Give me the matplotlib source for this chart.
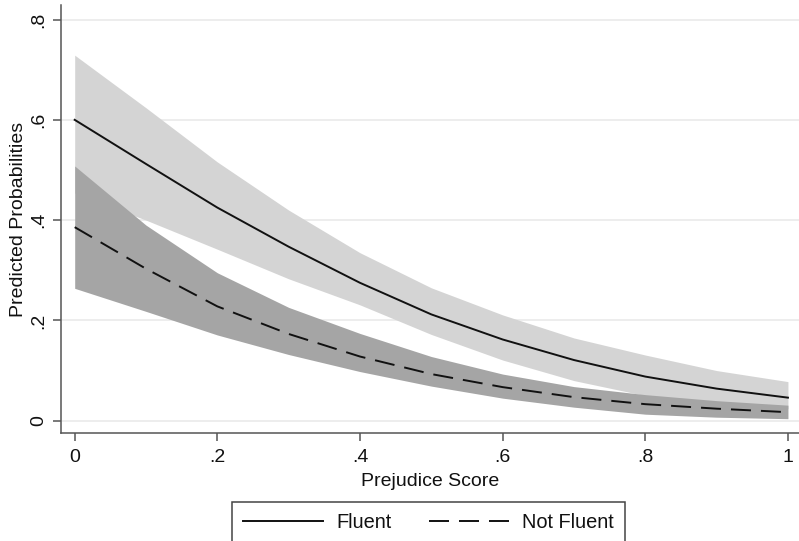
import matplotlib
matplotlib.use("Agg")
import matplotlib.pyplot as plt
from matplotlib.lines import Line2D

# ---- data ----
prejudice = [0.0, 0.1, 0.2, 0.3, 0.4, 0.5, 0.6, 0.7, 0.8, 0.9, 1.0]

fluent_mean  = [0.600, 0.512, 0.425, 0.347, 0.275, 0.212, 0.162, 0.121, 0.088, 0.064, 0.046]
fluent_upper = [0.729, 0.624, 0.516, 0.420, 0.335, 0.265, 0.211, 0.165, 0.131, 0.100, 0.078]
fluent_lower = [0.454, 0.400, 0.342, 0.283, 0.231, 0.172, 0.121, 0.080, 0.050, 0.034, 0.024]

notfl_mean   = [0.386, 0.303, 0.228, 0.173, 0.128, 0.093, 0.067, 0.047, 0.033, 0.024, 0.017]
notfl_upper  = [0.508, 0.390, 0.295, 0.226, 0.174, 0.128, 0.093, 0.068, 0.052, 0.040, 0.031]
notfl_lower  = [0.264, 0.218, 0.171, 0.132, 0.098, 0.069, 0.045, 0.027, 0.013, 0.007, 0.004]

x_ticks = [0, 0.2, 0.4, 0.6, 0.8, 1.0]
x_ticklabels = ["0", ".2", ".4", ".6", ".8", "1"]
y_ticks = [0, 0.2, 0.4, 0.6, 0.8]
y_ticklabels = ["0", ".2", ".4", ".6", ".8"]
series_names = ["Fluent", "Not Fluent"]

# ---- style ----
plt.rcParams["font.family"] = ["Liberation Sans", "DejaVu Sans"]
plt.rcParams["lines.scale_dashes"] = False

W, H = 799, 541
fig = plt.figure(figsize=(W / 100, H / 100), dpi=100)
left_px, right_px, top_px, bottom_px = 61, 799, 5, 433.3
ax = fig.add_axes([left_px / W, 1 - bottom_px / H,
                   (right_px - left_px) / W, (bottom_px - top_px) / H])

light = "#d4d4d4"
dark = "#a5a5a5"
ink = "#111111"
dash = (14.4, 7.2)
lw = 1.4

ax.fill_between(prejudice, fluent_lower, fluent_upper, color=light, lw=0, zorder=2)
ax.fill_between(prejudice, notfl_lower, notfl_upper, color=dark, lw=0, zorder=3)
ax.plot(prejudice, fluent_mean, color=ink, lw=lw, zorder=4)
ax.plot(prejudice, notfl_mean, color=ink, lw=lw, dashes=dash, zorder=4)

ax.set_xlim(-0.0192, 1.0155)
ax.set_ylim(-0.0251, 0.829)

ax.set_xticks(x_ticks)
ax.set_xticklabels(x_ticklabels)
ax.set_yticks(y_ticks)
ax.set_yticklabels(y_ticklabels, rotation=90, va="center")

ax.grid(axis="y", color="#eaeaea", lw=1.2, zorder=0)
ax.set_axisbelow(True)

for s in ["top", "right"]:
    ax.spines[s].set_visible(False)
for s in ["left", "bottom"]:
    ax.spines[s].set_color("#555555")
    ax.spines[s].set_linewidth(1.1)

ax.tick_params(axis="both", direction="out", length=6, width=1.1,
               color="#555555", labelsize=14, labelcolor=ink)
ax.tick_params(axis="x", pad=5)
ax.tick_params(axis="y", pad=4)

ax.set_xlabel("Prejudice Score", fontsize=14, color=ink, labelpad=5.5)
ax.set_ylabel("Predicted Probabilities", fontsize=14, color=ink, labelpad=2)

handles = [Line2D([0], [0], color=ink, lw=lw),
           Line2D([0], [0], color=ink, lw=lw, dashes=dash)]
leg = fig.legend(handles, series_names, loc="upper left",
                 bbox_to_anchor=(232.3 / W, 1 - 502.3 / H),
                 ncol=2, fontsize=14.4, frameon=True, fancybox=False,
                 edgecolor="#444444", framealpha=1, borderaxespad=0,
                 borderpad=0.55, handlelength=4.0, handletextpad=0.67,
                 columnspacing=1.83)
leg.get_frame().set_linewidth(1.1)
for t in leg.get_texts():
    t.set_color(ink)

fig.savefig("out.png", dpi=100)
